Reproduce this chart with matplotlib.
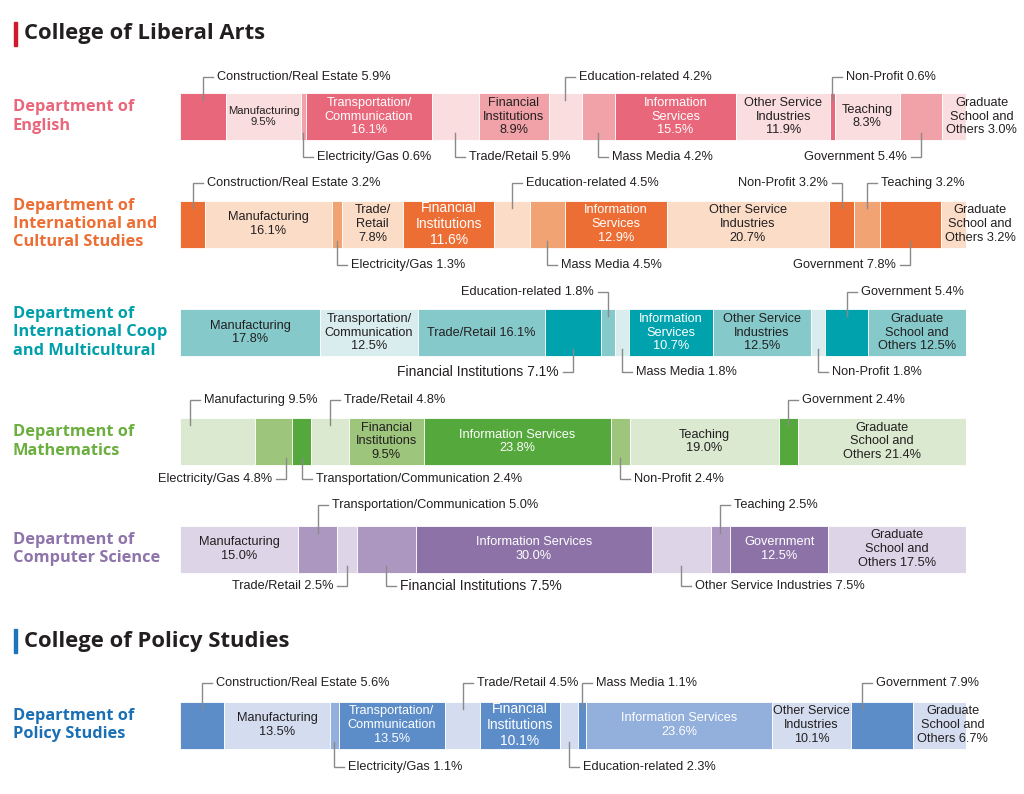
import matplotlib.pyplot as plt
import numpy as np

plt.rcParams['font.family'] = ['Liberation Sans', 'DejaVu Sans']

W, H = 1024, 794

# ---------------- data ----------------
english_names = ["Construction/Real Estate", "Manufacturing", "Electricity/Gas",
                 "Transportation/\nCommunication", "Trade/Retail", "Financial\nInstitutions",
                 "Education-related", "Mass Media", "Information\nServices",
                 "Other Service\nIndustries", "Non-Profit", "Teaching", "Government",
                 "Graduate\nSchool and\nOthers"]
english_values = [5.9, 9.5, 0.6, 16.1, 5.9, 8.9, 4.2, 4.2, 15.5, 11.9, 0.6, 8.3, 5.4, 3.0]

intl_names = ["Construction/Real Estate", "Manufacturing", "Electricity/Gas",
              "Trade/\nRetail", "Financial\nInstitutions", "Education-related",
              "Mass Media", "Information\nServices", "Other Service\nIndustries",
              "Non-Profit", "Teaching", "Government", "Graduate\nSchool and\nOthers"]
intl_values = [3.2, 16.1, 1.3, 7.8, 11.6, 4.5, 4.5, 12.9, 20.7, 3.2, 3.2, 7.8, 3.2]

coop_names = ["Manufacturing", "Transportation/\nCommunication", "Trade/Retail",
              "Financial Institutions", "Education-related", "Mass Media",
              "Information\nServices", "Other Service\nIndustries", "Non-Profit",
              "Government", "Graduate\nSchool and\nOthers"]
coop_values = [17.8, 12.5, 16.1, 7.1, 1.8, 1.8, 10.7, 12.5, 1.8, 5.4, 12.5]

math_names = ["Manufacturing", "Electricity/Gas", "Transportation/Communication",
              "Trade/Retail", "Financial\nInstitutions", "Information Services",
              "Non-Profit", "Teaching", "Government", "Graduate\nSchool and\nOthers"]
math_values = [9.5, 4.8, 2.4, 4.8, 9.5, 23.8, 2.4, 19.0, 2.4, 21.4]

cs_names = ["Manufacturing", "Transportation/Communication", "Trade/Retail",
            "Financial Institutions", "Information Services", "Other Service Industries",
            "Teaching", "Government", "Graduate\nSchool and\nOthers"]
cs_values = [15.0, 5.0, 2.5, 7.5, 30.0, 7.5, 2.5, 12.5, 17.5]

policy_names = ["Construction/Real Estate", "Manufacturing", "Electricity/Gas",
                "Transportation/\nCommunication", "Trade/Retail", "Financial\nInstitutions",
                "Education-related", "Mass Media", "Information Services",
                "Other Service\nIndustries", "Government", "Graduate\nSchool and\nOthers"]
policy_values = [5.6, 13.5, 1.1, 13.5, 4.5, 10.1, 2.3, 1.1, 23.6, 10.1, 7.9, 6.7]

dept_titles = ["Department of\nEnglish",
               "Department of\nInternational and\nCultural Studies",
               "Department of\nInternational Coop\nand Multicultural",
               "Department of\nMathematics",
               "Department of\nComputer Science",
               "Department of\nPolicy Studies"]

# ---------------- styling ----------------
# shade codes: D dark, M mid, L light, m mid with white text
english_shades = "DLMDLMLMDLDLML"
intl_shades = "DLMLDLMDLDMDL"
coop_shades = "MLMDMLDMLDM"
math_shades = "LMDLMDMLDL"
cs_shades = "LMLMDLMDL"
policy_shades = "DLMDLDLDmLDL"

# label placement: n inside (value below), s inside (value same line),
# sx inside left-aligned, ar/al above right/left, br/bl below right/left
english_modes = ["ar", "n", "br", "n", "br", "n", "ar", "br", "n", "n", "ar", "n", "bl", "sx"]
intl_modes = ["ar", "n", "br", "n", "n", "ar", "br", "n", "n", "al", "ar", "bl", "sx"]
coop_modes = ["n", "n", "s", "bl", "al", "br", "n", "n", "br", "ar", "s"]
math_modes = ["ar", "bl", "br", "ar", "n", "n", "br", "n", "ar", "s"]
cs_modes = ["n", "ar", "bl", "br", "n", "br", "ar", "n", "s"]
policy_modes = ["ar", "n", "br", "n", "ar", "n", "br", "ar", "n", "n", "ar", "sx"]

palettes = [("#E9677A", "#F1A2A8", "#FADDDF"),
            ("#EC6E34", "#F2A374", "#FADCC7"),
            ("#00A3AD", "#85C9CB", "#D9EDEF"),
            ("#55A83C", "#9DC57B", "#DBE9D0"),
            ("#8D72A8", "#AC97C1", "#DDD4E7"),
            ("#5C8DC9", "#93AFDC", "#D3DDEF")]
title_colors = ["#E9677A", "#EC6E34", "#00A0AA", "#6BAF3F", "#8E74AA", "#1A6FB5"]

# row layout in pixels: bar centre, callout line above, callout line below
bar_y = [116.5, 224, 332.5, 441.5, 549, 725]
above_y = [77, 183, 292, 400, 505, 683]
below_y = [157, 265, 372, 479, 586, 767]
bar_h = 47

# leader position inside segment (fraction), default centre
leader_frac = {(3, 0): 0.13, (3, 1): 0.83, (5, 10): 0.18}

rows = [(english_names, english_values, english_shades, english_modes),
        (intl_names, intl_values, intl_shades, intl_modes),
        (coop_names, coop_values, coop_shades, coop_modes),
        (math_names, math_values, math_shades, math_modes),
        (cs_names, cs_values, cs_shades, cs_modes),
        (policy_names, policy_values, policy_shades, policy_modes)]

DARK = "#231F20"
LEAD = "#8A8A8A"

fig = plt.figure(figsize=(W / 100, H / 100), dpi=100)
x0, x1 = 180, 966
ax = fig.add_axes([x0 / W, 0, (x1 - x0) / W, 1])
ax.set_xlim(0, 100)
ax.set_ylim(H, 0)
ax.axis("off")
ux = 100 / (x1 - x0)  # data units per pixel
renderer = fig.canvas.get_renderer()


def flat(name):
    return name.replace("/\n", "/").replace("\n", " ")


for r, (names, values, shades, modes) in enumerate(rows):
    dark, mid, light = palettes[r]
    cmap = {"D": dark, "M": mid, "L": light, "m": mid}
    colors = [cmap[s] for s in shades]
    lefts = np.concatenate([[0], np.cumsum(values)[:-1]])
    yc = bar_y[r]
    ax.barh(yc, values, left=lefts, height=bar_h, color=colors,
            edgecolor="white", linewidth=0.6)
    top, bot = yc - bar_h / 2, yc + bar_h / 2

    for i, (name, v, sh, mode) in enumerate(zip(names, values, shades, modes)):
        left = lefts[i]
        fin = name.startswith("Financial")
        tcol = "white" if sh in "Dm" else DARK
        if mode in ("n", "s", "sx"):
            fs = 10 if (fin and tcol == "white") else 9.2
            sep = "\n" if mode == "n" else " "
            txt = f"{name}{sep}{v:.1f}%"
            if mode == "sx":
                t = ax.text(left + 4 * ux, yc, txt, ha="left", va="center",
                            multialignment="center", fontsize=fs, color=tcol,
                            linespacing=1.17)
            else:
                t = ax.text(left + v / 2, yc, txt, ha="center", va="center",
                            multialignment="center", fontsize=fs, color=tcol,
                            linespacing=1.17)
                wpx = t.get_window_extent(renderer).width
                avail = v / ux - 3
                if wpx > avail:
                    t.set_fontsize(fs * avail / wpx)
        else:
            fs = 10 if fin else 9.2
            frac = leader_frac.get((r, i), 0.5)
            lx = left + v * frac
            if mode[0] == "a":
                ly, y_in = above_y[r], top + 7
            else:
                ly, y_in = below_y[r], bot - 7
            d = 1 if mode[1] == "r" else -1
            hx = lx + d * 10 * ux
            ax.plot([lx, lx, hx], [y_in, ly, ly], color=LEAD, lw=1,
                    solid_joinstyle="miter")
            ax.text(hx + d * 4 * ux, ly, f"{flat(name)} {v:.1f}%",
                    ha="left" if d > 0 else "right", va="center",
                    fontsize=fs, color=DARK)

    fig.text(13 / W, 1 - yc / H, dept_titles[r], ha="left", va="center",
             fontsize=11.8, fontweight="bold", color=title_colors[r],
             family=["Open Sans", "DejaVu Sans"], linespacing=1.2)

# college headings
for label, ytop, col in [("College of Liberal Arts", 22, "#D0192B"),
                         ("College of Policy Studies", 629, "#1C74BB")]:
    fig.patches.append(plt.Rectangle((14 / W, 1 - (ytop + 24) / H), 3 / W, 24 / H,
                                     transform=fig.transFigure, color=col))
    fig.text(24 / W, 1 - (ytop + 12) / H, label, ha="left", va="center",
             fontsize=15.8, fontweight="bold", color=DARK,
             family=["Open Sans", "DejaVu Sans"])

fig.savefig("out.png", dpi=100)
